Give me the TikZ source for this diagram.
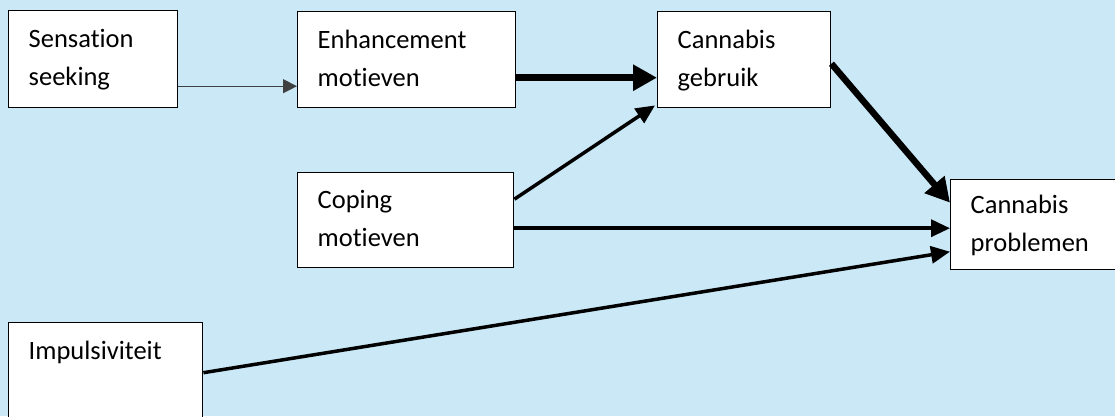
\documentclass[tikz,border=0pt]{standalone}
\usepackage{fontspec}
\setmainfont{Carlito}[Ligatures={NoCommon}]
\usepackage{xcolor}
\usetikzlibrary{arrows.meta,positioning,calc}
\definecolor{bgblue}{RGB}{203,232,247}

\begin{document}
\begin{tikzpicture}[x=1pt, y=-1pt,
    every node/.style={font=\fontsize{26.5}{38}\selectfont},
    factor/.style={draw, fill=white, line width=1.4pt, anchor=north west, align=left,
        inner xsep=20pt, inner ysep=0pt,
        execute at begin node=\strut, execute at end node=\strut},
    weak/.style={draw=black!75, line width=1.3pt, -{Triangle[length=14pt,width=14pt]}},
    mid/.style={line width=3.5pt, -{Triangle[length=19pt,width=17pt]}},
    strong/.style={line width=6.5pt, -{Triangle[length=24pt,width=25pt]}}]
    \fill[bgblue] (0,0) rectangle (1115,416);
    \useasboundingbox (0,0) rectangle (1115,416);

    \node (seek) [factor, text width=129pt, minimum height=97pt] at (8,10) {Sensation\\seeking};
    \node (enh) [factor, text width=178pt, minimum height=96pt] at (297,11) {Enhancement\\motieven};
    \node (use) [factor, text width=133pt, minimum height=96pt] at (657,11) {Cannabis\\gebruik};
    \node (cope) [factor, text width=176pt, minimum height=95pt] at (297,172) {Coping\\motieven};
    \node (prob) [factor, text width=135pt, minimum height=90pt] at (950,179) {Cannabis\\problemen};
    \node (imp) [factor, text width=154pt, minimum height=96pt] at (8,322) {Impulsiviteit\\ \mbox{}};

    \draw[weak] ([yshift=-27pt]seek.east) -- ([yshift=-27pt]seek.east -| enh.west);
    \draw[strong] ([yshift=-18pt]enh.east) -- ([yshift=-18pt]enh.east -| use.west);
    \draw[mid] ([yshift=21pt]cope.east) -- ([xshift=-2pt,yshift=3pt]use.south west);
    \draw[strong] ([yshift=-4pt]use.east) -- ([yshift=22pt]prob.west);
    \draw[mid] ([yshift=-8pt]cope.east) -- ([yshift=-8pt]cope.east -| prob.west);
    \draw[mid] ([yshift=-2pt]imp.east) -- ([yshift=-27pt]prob.west);
\end{tikzpicture}
\end{document}
